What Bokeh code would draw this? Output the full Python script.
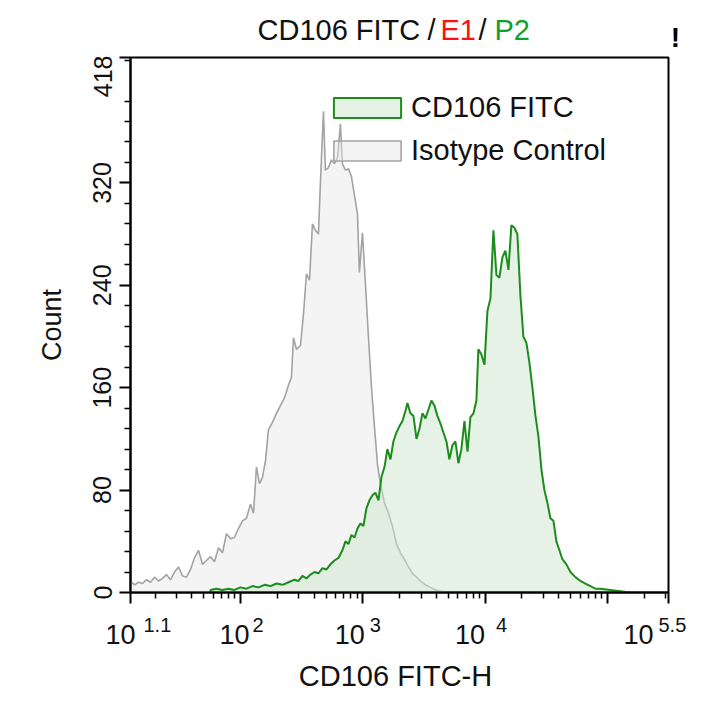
from bokeh.plotting import figure
from bokeh.layouts import column
from bokeh.models import Range1d, FixedTicker, Label, Legend, LegendItem, CustomJSTickFormatter
from bokeh.embed import file_html
from bokeh.resources import INLINE

FONT = "Liberation Sans"

# ---- data (log10 of FITC-H intensity, counts) ----
iso_log_x = [1.100, 1.133, 1.165, 1.198, 1.231, 1.264, 1.296, 1.329, 1.362, 1.394,
             1.427, 1.460, 1.492, 1.525, 1.558, 1.591, 1.623, 1.656, 1.689, 1.721,
             1.754, 1.787, 1.820, 1.852, 1.885, 1.918, 1.950, 1.983, 2.016, 2.048,
             2.081, 2.106, 2.130, 2.155, 2.179, 2.204, 2.228, 2.261, 2.294, 2.326,
             2.359, 2.392, 2.416, 2.433, 2.457, 2.490, 2.515, 2.539, 2.564, 2.588,
             2.613, 2.637, 2.654, 2.678, 2.694, 2.719, 2.744, 2.768, 2.793, 2.817,
             2.833, 2.858, 2.883, 2.907, 2.932, 2.956, 2.972, 2.997, 3.022, 3.046,
             3.071, 3.095, 3.120, 3.144, 3.177, 3.210, 3.242, 3.275, 3.308, 3.340,
             3.373, 3.406, 3.439, 3.471, 3.512, 3.553, 3.594, 3.635, 3.717]
iso_count = [9, 6, 8, 7, 10, 8, 12, 9, 11, 14,
             10, 16, 20, 13, 12, 18, 27, 33, 22, 25,
             28, 24, 35, 31, 46, 42, 43, 50, 56, 58,
             69, 62, 98, 85, 90, 103, 127, 133, 140, 146,
             152, 162, 168, 199, 190, 193, 218, 249, 244, 288,
             283, 280, 322, 376, 330, 332, 338, 335, 340, 366,
             335, 330, 331, 325, 310, 296, 250, 281, 240, 200,
             160, 130, 100, 85, 70, 62, 52, 38, 31, 26,
             20, 15, 12, 9, 6, 4, 2, 1, 0]

cd106_log_x = [1.754, 1.803, 1.852, 1.901, 1.950, 1.999, 2.048, 2.098, 2.147, 2.196,
               2.245, 2.294, 2.343, 2.392, 2.441, 2.474, 2.506, 2.539, 2.572, 2.605,
               2.637, 2.670, 2.703, 2.735, 2.768, 2.801, 2.833, 2.858, 2.883, 2.907,
               2.932, 2.956, 2.981, 3.005, 3.030, 3.054, 3.079, 3.103, 3.128, 3.152,
               3.177, 3.201, 3.226, 3.250, 3.275, 3.300, 3.324, 3.349, 3.365, 3.389,
               3.414, 3.439, 3.463, 3.488, 3.512, 3.537, 3.561, 3.586, 3.610, 3.635,
               3.659, 3.684, 3.708, 3.733, 3.757, 3.782, 3.806, 3.831, 3.856, 3.880,
               3.905, 3.929, 3.945, 3.970, 3.995, 4.019, 4.044, 4.068, 4.093, 4.117,
               4.142, 4.166, 4.191, 4.215, 4.240, 4.264, 4.289, 4.313, 4.338, 4.362,
               4.387, 4.412, 4.436, 4.461, 4.485, 4.510, 4.534, 4.559, 4.583, 4.608,
               4.632, 4.665, 4.698, 4.739, 4.780, 4.820, 4.861, 4.902, 4.943, 5.025,
               5.107, 5.188]
cd106_count = [2, 3, 2, 3, 2, 4, 3, 5, 4, 6,
               5, 7, 6, 8, 10, 9, 13, 11, 14, 16,
               15, 19, 18, 22, 25, 27, 33, 40, 38, 45,
               43, 50, 54, 52, 66, 72, 76, 78, 72, 90,
               98, 112, 104, 118, 125, 130, 134, 142, 148, 140,
               138, 120, 128, 140, 136, 143, 150, 146, 138, 132,
               125, 118, 104, 115, 118, 101, 112, 134, 110, 137,
               140, 150, 190, 186, 178, 220, 230, 283, 248, 246,
               262, 267, 252, 287, 285, 280, 232, 200, 195, 180,
               160, 138, 122, 96, 80, 70, 58, 56, 40, 33,
               26, 22, 16, 12, 9, 7, 5, 3, 3, 2,
               1, 0]

series_names = ["CD106 FITC", "Isotype Control"]
x_major_exp = [1.1, 2, 3, 4, 5, 5.5]
x_tick_sup = ["1.1", "2", "3", "4", None, "5.5"]
y_major = [0, 80, 160, 240, 320, 418]
x_title = "CD106 FITC-H"
y_title = "Count"
title_parts = ["CD106 FITC", "/", "E1", "/", "P2"]
title_colors = ["#111111", "#111111", "#ff1010", "#111111", "#10a030"]

X_LO, X_HI = 1.1, 5.5
Y_HI = 418

W = 693
TOP_H, MAIN_H, BOT_H = 55, 550, 89
FR_L, FR_R = 130, 25          # frame borders of the main plot
FR_W = W - FR_L - FR_R        # 538 px frame width


def blank_fig(height, x_range, y_range, x_axis_type="linear"):
    f = figure(width=W, height=height, x_range=x_range, y_range=y_range,
               x_axis_type=x_axis_type, x_axis_location=None, y_axis_location=None,
               title=None, frame_align=False,
               output_backend="svg", toolbar_location=None,
               min_border=0, min_border_left=0, min_border_right=0,
               min_border_top=0, min_border_bottom=0)
    f.grid.visible = False
    f.outline_line_color = None
    f.background_fill_color = "white"
    f.border_fill_color = "white"
    return f


# ---- main histogram figure ----
p = figure(width=W, height=MAIN_H, x_axis_type="log", title=None, frame_align=False,
           x_range=Range1d(10 ** X_LO, 10 ** X_HI), y_range=Range1d(0, Y_HI),
           output_backend="svg", toolbar_location=None,
           min_border_left=FR_L, min_border_right=FR_R, min_border_top=2, min_border_bottom=13)
p.background_fill_color = "white"
p.border_fill_color = "white"
p.grid.visible = False
p.outline_line_color = "black"
p.outline_line_width = 2
p.outline_line_alpha = 1

iso_x = [10 ** e for e in iso_log_x]
cd_x = [10 ** e for e in cd106_log_x]
gray = p.patch([iso_x[0]] + iso_x + [iso_x[-1]], [0] + iso_count + [0],
               fill_color="#e6e6e6", fill_alpha=0.45, line_color="#a3a3a3", line_width=1.6)
green = p.patch([cd_x[0]] + cd_x + [cd_x[-1]], [0] + cd106_count + [0],
                fill_color="#cbe6cb", fill_alpha=0.5, line_color="#1c8c1c", line_width=2)

xa = p.xaxis[0]
x_minor = [m * 10 ** d for d in range(1, 6) for m in range(2, 10)
           if 10 ** X_LO < m * 10 ** d < 10 ** X_HI]
xa.ticker = FixedTicker(ticks=[10 ** e for e in x_major_exp], minor_ticks=x_minor)
xa.formatter = CustomJSTickFormatter(code="return ''")
xa.major_label_text_font_size = "1px"
xa.major_label_standoff = 0

ya = p.yaxis[0]
y_minor = [v for v in range(16, 418, 16) if v % 80 != 0]
ya.ticker = FixedTicker(ticks=y_major, minor_ticks=y_minor)
ya.major_label_orientation = "parallel"
ya.major_label_text_font = FONT
ya.major_label_text_font_size = "25px"
ya.major_label_text_color = "#111111"
ya.major_label_standoff = 8
ya.axis_label = y_title
ya.axis_label_text_font = FONT
ya.axis_label_text_font_size = "27px"
ya.axis_label_text_font_style = "normal"
ya.axis_label_text_color = "#111111"
ya.axis_label_standoff = 24

for ax in (xa, ya):
    ax.axis_line_color = "black"
    ax.axis_line_width = 2
    ax.major_tick_line_color = "black"
    ax.major_tick_line_width = 2
    ax.minor_tick_line_color = "black"
    ax.minor_tick_line_width = 1.5
    ax.major_tick_in = 0
    ax.major_tick_out = 11
    ax.minor_tick_in = 0
    ax.minor_tick_out = 6

legend = Legend(items=[LegendItem(label=series_names[0], renderers=[green]),
                       LegendItem(label=series_names[1], renderers=[gray])],
                location=(195, 425), glyph_width=84, glyph_height=25,
                label_standoff=2, spacing=10, padding=0, margin=0,
                border_line_color=None, background_fill_alpha=0,
                label_text_font=FONT, label_text_font_size="29px",
                label_text_color="#111111")
p.add_layout(legend)

# ---- top strip: coloured title (pixel coordinates) ----
top = blank_fig(TOP_H, Range1d(0, W), Range1d(0, TOP_H))
title_px = [257, 427, 440, 478, 494]
for txt, col, px in zip(title_parts, title_colors, title_px):
    top.add_layout(Label(x=px, y=TOP_H - 29, text=txt, text_align="left",
                         text_baseline="alphabetic", text_font=FONT, text_font_size="29px",
                         text_color=col))
top.add_layout(Label(x=675, y=TOP_H - 37, text="!", text_align="center",
                     text_baseline="alphabetic", text_font=FONT, text_font_size="28px",
                     text_font_style="bold", text_color="black"))

# ---- bottom strip: x tick labels (same log mapping as main plot) + x title ----
dec_per_px = (X_HI - X_LO) / FR_W
bot_range = Range1d(10 ** (X_LO - FR_L * dec_per_px), 10 ** (X_HI + FR_R * dec_per_px))
bot = blank_fig(BOT_H, bot_range, Range1d(0, BOT_H), x_axis_type="log")
y0 = TOP_H + MAIN_H + BOT_H   # picture y of the strip's bottom edge
ten_dx = [5, 9, 2, 0, None, -15]
sup_dx = [13, 12, 7, 11, None, -10]
for e, sup, tdx, sdx in zip(x_major_exp, x_tick_sup, ten_dx, sup_dx):
    if sup is None:
        continue
    bot.add_layout(Label(x=10 ** e, y=y0 - 634, x_offset=tdx, text="10", text_align="right",
                         text_baseline="alphabetic", text_font=FONT, text_font_size="27px",
                         text_color="#111111"))
    bot.add_layout(Label(x=10 ** e, y=y0 - 624, x_offset=sdx, text=sup, text_align="left",
                         text_baseline="alphabetic", text_font=FONT, text_font_size="20px",
                         text_color="#111111"))
bot.add_layout(Label(x=10 ** ((X_LO + X_HI) / 2), y=y0 - 675, x_offset=-4, text=x_title,
                     text_align="center", text_baseline="alphabetic", text_font=FONT,
                     text_font_size="29px", text_color="#111111"))

layout = column(top, p, bot, spacing=0)
open("out.html", "w").write(file_html(layout, INLINE))
